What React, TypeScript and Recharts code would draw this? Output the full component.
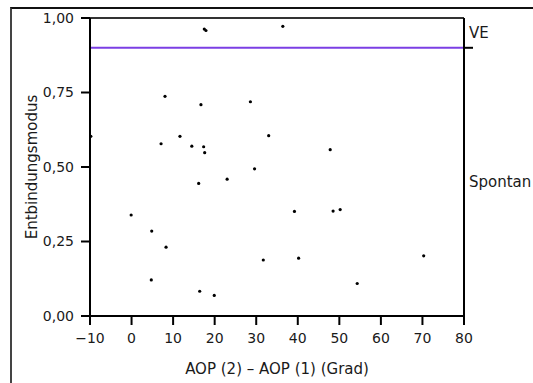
import {
  ReferenceLine,
  Scatter,
  ScatterChart,
  XAxis,
  YAxis,
} from "recharts";

// AOP (2) - AOP (1) in Grad
const aopDiff = [
  17.5, 17.9, 36.4, -9.8, 8.05, 16.7, 28.6, 7.1, 11.65, 14.5, 17.35, 17.6, 33.0,
  47.8, 29.6, 16.15, 23.0, -0.1, 4.85, 8.3, 4.75, 16.4, 19.9, 31.7, 39.2, 48.5,
  50.2, 40.2, 54.3, 70.3,
];

const entbindung = [
  0.963, 0.958, 0.972, 0.603, 0.737, 0.709, 0.719, 0.578, 0.603, 0.57, 0.568,
  0.548, 0.605, 0.558, 0.494, 0.445, 0.459, 0.339, 0.285, 0.231, 0.121, 0.083,
  0.069, 0.188, 0.351, 0.352, 0.357, 0.194, 0.109, 0.202,
];

const xTicks = [-10, 0, 10, 20, 30, 40, 50, 60, 70, 80];
const yTicks = [0, 0.25, 0.5, 0.75, 1];

// right axis: category labels and the split between them
const splitValue = 0.9;
const rightTicks = [0.45, 0.9, 0.95];
const rightLabels: Record<string, string> = { "0.45": "Spontan", "0.95": "VE" };

const data = aopDiff.map((x, i) => ({ x, y: entbindung[i] }));

const FONT = "'DejaVu Sans', sans-serif";
const TEXT = "#1a1a1a";

function formatX(v: number) {
  return v < 0 ? `\u2212${Math.abs(v)}` : String(v);
}

function formatY(v: number) {
  return v.toFixed(2).replace(".", ",");
}

function RightTick(props: any) {
  const { x, y, payload } = props;
  const v = payload.value;
  if (v === splitValue) {
    return <line x1={x - 5} x2={x + 4} y1={y} y2={y} stroke="#000" strokeWidth={2} />;
  }
  return (
    <text x={x} y={y} dy="0.355em" textAnchor="start" fill={TEXT} fontSize={15} fontFamily={FONT}>
      {rightLabels[String(v)]}
    </text>
  );
}

function Dot(props: any) {
  return <circle cx={props.cx} cy={props.cy} r={1.6} fill="#000" />;
}

function NoDot() {
  return null;
}

export default function App() {
  return (
    <div style={{ position: "absolute", left: 0, top: 0, width: 533, height: 383, background: "#fff", overflow: "hidden" }}>
      <div
        style={{
          position: "absolute",
          left: 10,
          top: 7,
          width: 540,
          height: 400,
          borderTop: "2px solid #111",
          borderLeft: "2px solid #444",
        }}
      />
      <ScatterChart
        width={533}
        height={383}
        margin={{ top: 18, right: 0, bottom: 0, left: 0 }}
        style={{ position: "absolute", left: 0, top: 0, fontFamily: FONT }}
      >
        <XAxis
          type="number"
          dataKey="x"
          domain={[-10, 80]}
          ticks={xTicks}
          tickFormatter={formatX}
          interval={0}
          height={67}
          tickSize={9}
          tickMargin={8}
          axisLine={{ stroke: "#000", strokeWidth: 2 }}
          tickLine={{ stroke: "#000", strokeWidth: 2 }}
          tick={{ fill: TEXT, fontSize: 14, fontFamily: FONT }}
          label={{
            value: "AOP (2) \u2013 AOP (1) (Grad)",
            position: "insideBottom",
            offset: 9,
            fill: TEXT,
            fontSize: 15,
            fontFamily: FONT,
          }}
        />
        <YAxis
          type="number"
          dataKey="y"
          domain={[0, 1]}
          ticks={yTicks}
          tickFormatter={formatY}
          interval={0}
          width={90}
          tickSize={9}
          tickMargin={7}
          axisLine={{ stroke: "#000", strokeWidth: 2 }}
          tickLine={{ stroke: "#000", strokeWidth: 2 }}
          tick={{ fill: TEXT, fontSize: 14, fontFamily: FONT }}
          label={{
            value: "Entbindungsmodus",
            angle: -90,
            position: "insideLeft",
            offset: 32,
            fill: TEXT,
            fontSize: 15,
            fontFamily: FONT,
            style: { textAnchor: "middle" },
          }}
        />
        <YAxis
          yAxisId="right"
          orientation="right"
          type="number"
          dataKey="y"
          domain={[0, 1]}
          allowDataOverflow
          ticks={rightTicks}
          interval={0}
          width={69}
          tickSize={0}
          tickMargin={5}
          tickLine={false}
          axisLine={{ stroke: "#000", strokeWidth: 2 }}
          tick={<RightTick />}
        />
        <ReferenceLine y={1} stroke="#333" strokeWidth={2} />
        <ReferenceLine y={splitValue} stroke="#7b3fe4" strokeWidth={2} />
        <Scatter yAxisId="right" data={data} shape={<NoDot />} legendType="none" isAnimationActive={false} />
        <Scatter data={data} shape={<Dot />} isAnimationActive={false} />
      </ScatterChart>
    </div>
  );
}
